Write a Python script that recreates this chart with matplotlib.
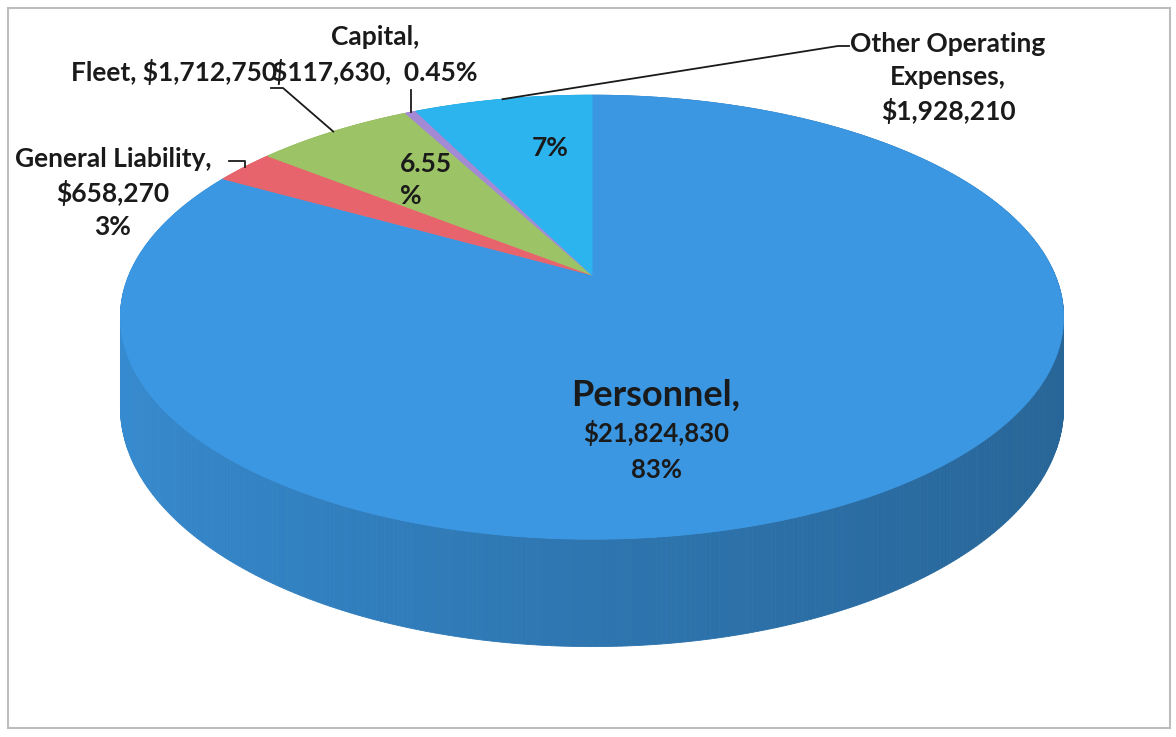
import numpy as np
import matplotlib.pyplot as plt
from matplotlib.patches import Polygon, Rectangle
from matplotlib.colors import to_rgb

# Datos del grafico
categorias = ["Personnel", "General Liability", "Fleet", "Capital", "Other Operating Expenses"]
montos = [21824830, 658270, 1712750, 117630, 1928210]
colores = ["#3b97e2", "#e8646c", "#9cc466", "#a48ad4", "#2cb4ee"]

# Geometria del pastel 3D (pixeles)
CX, CY = 592, 275      # vertice (centro del circulo proyectado)
A, B, K = 463, 214, 0.19
PROF = 87              # grosor del pastel


def proj(theta, z=0.0):
    # theta medido en sentido horario desde las 12
    u = np.sin(theta)
    v = np.cos(theta)
    w = 1 + K * v
    return CX + A * u / w, CY + (-B * v + PROF * z) / w


def mezclar(c, f):
    r, g, b = to_rgb(c)
    return (r * f, g * f, b * f)


fig = plt.figure(figsize=(11.76, 7.37), dpi=100)
ax = fig.add_axes([0, 0, 1, 1])
ax.set_xlim(0, 1176)
ax.set_ylim(737, 0)
ax.axis('off')

total = float(sum(montos))
frac = np.array(montos) / total
bordes = np.concatenate([[0], np.cumsum(frac)]) * 2 * np.pi

# Paredes laterales (de atras hacia adelante)
segs = []
for i in range(len(montos)):
    t = np.linspace(bordes[i], bordes[i + 1], max(3, int(frac[i] * 720)))
    for t0, t1 in zip(t[:-1], t[1:]):
        segs.append((np.cos((t0 + t1) / 2), t0, t1, i))
segs.sort(key=lambda s: -s[0])
for _, t0, t1, i in segs:
    xa, ya = proj(t0)
    xb, yb = proj(t1)
    xc, yc = proj(t1, 1)
    xd, yd = proj(t0, 1)
    tm = (t0 + t1) / 2
    # luz desde la izquierda
    f = 0.80 - 0.13 * np.sin(tm) + 0.02 * np.cos(tm)
    col = mezclar(colores[i], f)
    ax.add_patch(Polygon([(xa, ya), (xb, yb), (xc, yc), (xd, yd)], closed=True,
                         facecolor=col, edgecolor=col, lw=0.6))

# Caras superiores
for i in range(len(montos)):
    t = np.linspace(bordes[i], bordes[i + 1], max(4, int(frac[i] * 720)))
    xs, ys = proj(t)
    pts = [(CX, CY)] + list(zip(xs, ys))
    ax.add_patch(Polygon(pts, closed=True, facecolor=colores[i],
                         edgecolor=colores[i], lw=0.6))

medio = (bordes[:-1] + bordes[1:]) / 2
fuente = dict(family=['Lato', 'DejaVu Sans'], fontweight='bold', color='#1a1a1a')

# Etiquetas
ax.text(656, 395, "Personnel,", ha='center', va='center', fontsize=26, **fuente)
ax.text(656, 433, "$21,824,830", ha='center', va='center', fontsize=18.5, **fuente)
ax.text(656, 470, "83%", ha='center', va='center', fontsize=18.5, **fuente)

ax.text(113, 193, "General Liability,\n$658,270\n3%", ha='center', va='center',
        fontsize=19, linespacing=1.42, **fuente)
ax.text(174, 72, "Fleet, $1,712,750", ha='center', va='center', fontsize=19, **fuente)
ax.text(375, 55, "Capital,\n$117,630,  0.45%", ha='center', va='center',
        fontsize=19, linespacing=1.42, **fuente)
ax.text(948, 78, "Other Operating\nExpenses,\n$1,928,210", ha='center', va='center',
        fontsize=19, linespacing=1.42, **fuente)
ax.text(550, 148, "7%", ha='center', va='center', fontsize=19, **fuente)
ax.text(400, 180, "6.55\n%", ha='left', va='center', fontsize=19,
        linespacing=1.42, **fuente)

# Lineas guia
lin = dict(color='#1a1a1a', lw=1.3)
x, y = proj(medio[4])
ax.plot([x, 838, 849], [y, 46, 46], **lin)
x, y = proj(medio[3])
ax.plot([x, x], [y, 90], **lin)
x, y = proj(medio[2])
ax.plot([x, 283, 271], [y, 88, 88], **lin)
x, y = proj(medio[1])
ax.plot([x, x, 229], [y, 161, 161], **lin)

# Marco
ax.add_patch(Rectangle((8, 8), 1162, 720, fill=False, edgecolor='#bdbdbd', lw=1.5))

fig.savefig('out.png', dpi=100)
